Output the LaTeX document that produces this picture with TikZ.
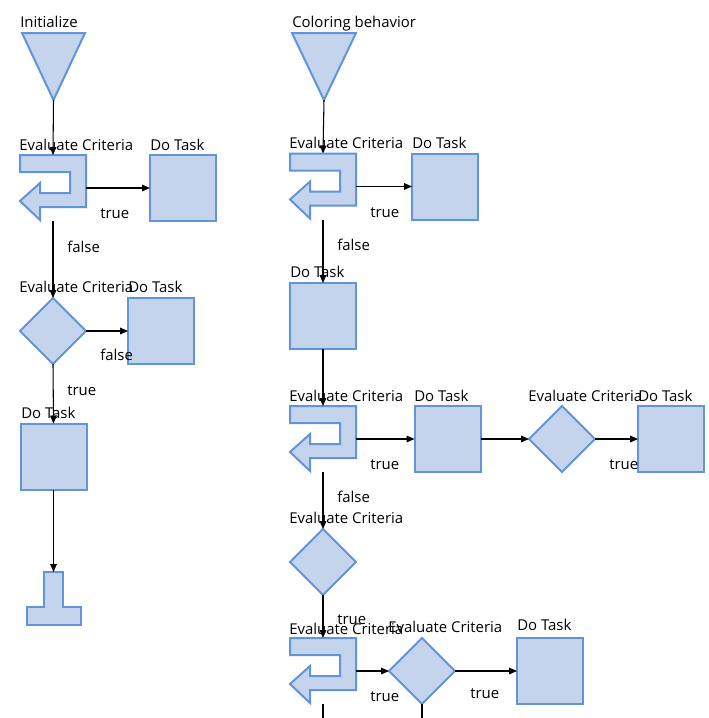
\documentclass[tikz,border=0pt]{standalone}
\usepackage{fontspec}
\setmainfont{Open Sans}
\usetikzlibrary{shapes.geometric,arrows.meta}
\definecolor{shpfill}{RGB}{197,212,237}
\definecolor{shpdraw}{RGB}{98,148,216}
\newcommand{\loopshape}[1]{\path[shp] (#1.north west) -- ++(66,0) -- ++(0,52) -- ++(-46,0) -- ++(0,13) -- ++(-20,-19) -- ++(20,-18) -- ++(0,10) -- ++(30,0) -- ++(0,-21) -- ++(-50,0) -- cycle;}
\newcommand{\triangleshape}[1]{\path[shp] (#1.north west) -- (#1.north east) -- (#1.south) -- cycle;}
\newcommand{\termshape}[1]{\path[shp] (#1.north west) ++(17,0) -- ++(19,0) -- ++(0,35) -- ++(18,0) -- ++(0,18) -- ++(-54,0) -- ++(0,-18) -- ++(17,0) -- cycle;}
\begin{document}
\begin{tikzpicture}[x=0.75pt,y=-0.75pt,
 shp/.style={draw=shpdraw,fill=shpfill,line width=1.5pt,line join=miter},
 holder/.style={inner sep=0pt,outer sep=0pt,minimum width=49.5pt,minimum height=49.5pt,rectangle},
 box/.style={holder,shp},
 dia/.style={shp,diamond,inner sep=0pt,outer sep=0pt,minimum width=49.5pt,minimum height=49.5pt},
 lbl/.style={anchor=base west,inner sep=0pt,font=\fontsize{11.2}{13}\selectfont,text=black},
 conn/.style={draw=black,line width=0.8pt,-{Triangle[length=6pt,width=5pt]}},
]
\fill[white] (0,0) rectangle (709,718);
\useasboundingbox (0,0) rectangle (709,718);

% ---------- left column shapes ----------
\node[holder,minimum width=47.25pt,minimum height=50.25pt] (tri1) at (53.5,66.5) {};
\triangleshape{tri1}
\node[holder] (loopA1) at (53,188) {};
\loopshape{loopA1}
\node[box] (boxA1) at (183,188) {};
\node[dia] (diaA1) at (53,331) {};
\node[box] (boxA2) at (161,331) {};
\node[box] (boxA3) at (53.5,456.5) {};
\node[holder,minimum width=40.5pt,minimum height=39.75pt] (endA) at (53.5,598.5) {};
\termshape{endA}

% ---------- right column shapes ----------
\node[holder,minimum width=48pt,minimum height=50.25pt] (tri2) at (324,66.5) {};
\triangleshape{tri2}
\node[holder] (loopB1) at (323,186.5) {};
\loopshape{loopB1}
\node[box] (boxB1) at (445,186.5) {};
\node[box] (boxB2) at (323,316) {};
\node[holder] (loopB2) at (323,439) {};
\loopshape{loopB2}
\node[box] (boxB3) at (447.5,439) {};
\node[dia] (diaB1) at (562,439) {};
\node[box] (boxB4) at (671,439) {};
\node[dia] (diaB2) at (323,562) {};
\node[holder] (loopB3) at (323,671) {};
\loopshape{loopB3}
\node[dia] (diaB3) at (422,671) {};
\node[box] (boxB5) at (550,671) {};
\coordinate (outB1) at (323,718);
\coordinate (outB2) at (422,718);

% ---------- labels ----------
\node[lbl] (tInit) at (20,27) {Initialize};
\node[lbl] (tA1) at (19,150) {Evaluate Criteria};
\node[lbl] (tA2) at (150,150) {Do Task};
\node[lbl] (tA3) at (100,218) {true};
\node[lbl] (tA4) at (67,252) {false};
\node[lbl] (tA5) at (19,292) {Evaluate Criteria};
\node[lbl] (tA6) at (128,292) {Do Task};
\node[lbl] (tA7) at (100,360) {false};
\node[lbl] (tA8) at (67,395) {true};
\node[lbl] (tA9) at (21,418) {Do Task};

\node[lbl] (tColor) at (292,27) {Coloring behavior};
\node[lbl] (tB1) at (289,148) {Evaluate Criteria};
\node[lbl] (tB2) at (412,148) {Do Task};
\node[lbl] (tB3) at (370,217) {true};
\node[lbl] (tB4) at (337,250) {false};
\node[lbl] (tB5) at (290,277) {Do Task};
\node[lbl] (tB6) at (289,401) {Evaluate Criteria};
\node[lbl] (tB7) at (414,401) {Do Task};
\node[lbl] (tB8) at (370,469) {true};
\node[lbl] (tB9) at (528,401) {Evaluate Criteria};
\node[lbl] (tB10) at (638,401) {Do Task};
\node[lbl] (tB11) at (609,469) {true};
\node[lbl] (tB12) at (337,502) {false};
\node[lbl] (tB13) at (289,523) {Evaluate Criteria};
\node[lbl] (tB14) at (337,624) {true};
\node[lbl] (tB15) at (289,634) {Evaluate Criteria};
\node[lbl] (tB16) at (388,632) {Evaluate Criteria};
\node[lbl] (tB17) at (517,630) {Do Task};
\node[lbl] (tB18) at (370,701) {true};
\node[lbl] (tB19) at (470,698) {true};

% ---------- connectors ----------
\draw[conn] (tri1.south) -- (loopA1.north);
\draw[conn] (loopA1.east) -- (boxA1.west);
\draw[conn] (loopA1.south) -- (diaA1.north);
\draw[conn] (diaA1.east) -- (boxA2.west);
\draw[conn] (diaA1.south) -- (boxA3.north);
\draw[conn] (boxA3.south) -- (endA.north);

\draw[conn] (tri2.south) -- (loopB1.north);
\draw[conn] (loopB1.east) -- (boxB1.west);
\draw[conn] (loopB1.south) -- (boxB2.north);
\draw[conn] (boxB2.south) -- (loopB2.north);
\draw[conn] (loopB2.east) -- (boxB3.west);
\draw[conn] (boxB3.east) -- (diaB1.west);
\draw[conn] (diaB1.east) -- (boxB4.west);
\draw[conn] (loopB2.south) -- (diaB2.north);
\draw[conn] (diaB2.south) -- (loopB3.north);
\draw[conn] (loopB3.east) -- (diaB3.west);
\draw[conn] (diaB3.east) -- (boxB5.west);
\draw[draw=black,line width=0.8pt] (loopB3.south) -- (outB1);
\draw[draw=black,line width=0.8pt] (diaB3.south) -- (outB2);
\end{tikzpicture}
\end{document}
